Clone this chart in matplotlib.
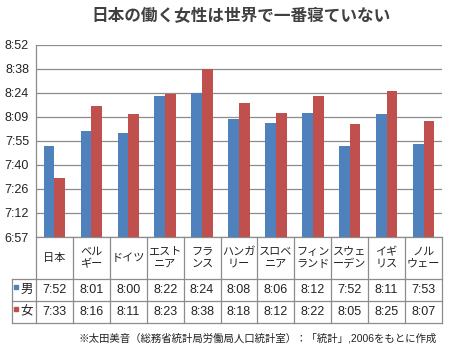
import matplotlib

matplotlib.use("Agg")
import matplotlib.pyplot as plt
import numpy as np
from matplotlib.ticker import FixedLocator, FuncFormatter

plt.rcParams["font.family"] = ["Liberation Sans", "Noto Sans CJK JP", "DejaVu Sans"]

TITLE = "日本の働く女性は世界で一番寝ていない"
NOTE = "※太田美音（総務省統計局労働局人口統計室）：「統計」,2006をもとに作成"
COUNTRIES = ["日本", "ベル\nギー", "ドイツ", "エスト\nニア", "フラ\nンス", "ハンガ\nリー",
             "スロベ\nニア", "フィン\nランド", "スウェ\nーデン", "イギ\nリス", "ノル\nウェー"]
SERIES = ["男", "女"]
MEN = ["7:52", "8:01", "8:00", "8:22", "8:24", "8:08", "8:06", "8:12", "7:52", "8:11", "7:53"]
WOMEN = ["7:33", "8:16", "8:11", "8:23", "8:38", "8:18", "8:12", "8:22", "8:05", "8:25", "8:07"]
# Excel time axis: fractions of a day
Y_TICK_FRACTIONS = [0.29, 0.30, 0.31, 0.32, 0.33, 0.34, 0.35, 0.36, 0.37]

BLUE = "#4F81BD"
RED = "#C0504D"
GRID = "#8C8C8C"
TEXT = "#222222"

W, H = 450, 355


def to_min(s):
    h, m = s.split(":")
    return int(h) * 60 + int(m)


def fmt_time(v, _pos=None):
    v = int(v + 1e-6)
    return f"{v // 60}:{v % 60:02d}"


fig = plt.figure(figsize=(W / 100, H / 100), dpi=100)


def px_axes(x0, y0, x1, y1):
    return fig.add_axes([x0 / W, 1 - y1 / H, (x1 - x0) / W, (y1 - y0) / H])


n = len(COUNTRIES)
x = np.arange(n)
men = [to_min(v) for v in MEN]
women = [to_min(v) for v in WOMEN]
yticks = [f * 1440 for f in Y_TICK_FRACTIONS]

ax = px_axes(36, 44.5, 442, 237)
bw = 0.29
ax.bar(x - bw / 2, men, bw, color=BLUE, zorder=3)
ax.bar(x + bw / 2, women, bw, color=RED, zorder=3)
ax.set_xlim(-0.5, n - 0.5)
ax.set_ylim(yticks[0], yticks[-1])
ax.yaxis.set_major_locator(FixedLocator(yticks))
ax.yaxis.set_major_formatter(FuncFormatter(fmt_time))
ax.set_xticks([])
ax.yaxis.grid(True, color=GRID, lw=0.9)
ax.set_axisbelow(True)
ax.tick_params(axis="y", length=0, pad=5, labelsize=9, labelcolor=TEXT)
for side in ["top", "right"]:
    ax.spines[side].set_visible(False)
for side in ["left", "bottom"]:
    ax.spines[side].set_color(GRID)
    ax.spines[side].set_linewidth(0.9)

# data table below the chart
col_w = 406 / n
left = -0.5 - 24 / col_w
tax = px_axes(12, 237, 442, 323)
tax.set_xlim(left, n - 0.5)
tax.set_ylim(86, 0)
tax.axis("off")
lk = dict(color=GRID, lw=0.9, clip_on=False)
for k in range(n + 1):
    tax.plot([k - 0.5, k - 0.5], [0, 86], **lk)
tax.plot([left, left], [42, 86], **lk)
for yy in [42, 64, 86]:
    tax.plot([left, n - 0.5], [yy, yy], **lk)

for i, name in enumerate(COUNTRIES):
    tax.text(i, 21, name, ha="center", va="center", fontsize=8, color=TEXT, linespacing=1.2)
    tax.text(i, 53, MEN[i], ha="center", va="center", fontsize=9, color=TEXT)
    tax.text(i, 75, WOMEN[i], ha="center", va="center", fontsize=9, color=TEXT)

for label, yy, c in zip(SERIES, [53, 75], [BLUE, RED]):
    tax.plot([left + 0.12], [yy - 3], marker="s", ms=3, color=c, clip_on=False)
    tax.text(left + 0.22, yy, label, ha="left", va="center", fontsize=9, color=TEXT)

fig.text(241 / W, 1 - 16 / H, TITLE, ha="center", va="center", fontsize=12,
         fontweight="bold", color="#404040")
fig.text(437 / W, 1 - 338 / H, NOTE, ha="right", va="center", fontsize=7.5, color=TEXT)

fig.savefig("out.png", dpi=100, facecolor="white")
